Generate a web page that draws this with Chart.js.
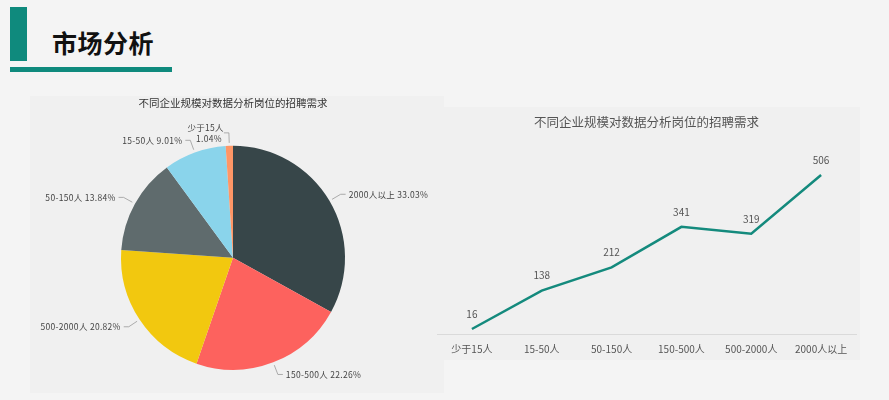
<!DOCTYPE html>
<html>
<head>
<meta charset="utf-8">
<script src="https://cdn.jsdelivr.net/npm/chart.js@4.4.0/dist/chart.umd.min.js"></script>
<style>
  html, body { margin: 0; padding: 0; }
  body { width: 889px; height: 400px; background: #f4f4f4; position: relative; overflow: hidden;
         font-family: "Noto Sans CJK SC", "Noto Sans", sans-serif; }
  .vbar { position: absolute; left: 10px; top: 7px; width: 17px; height: 54px; background: #0f8a7d; }
  .hbar { position: absolute; left: 10px; top: 67px; width: 162px; height: 5px; background: #0f8a7d; }
  .head { position: absolute; left: 52px; top: 24px; font-size: 25px; font-weight: 700; color: #111; line-height: 36px; letter-spacing: 0.5px; }
  .card { position: absolute; background: #f0f0f0; }
  #pieCard { left: 30px; top: 96px; width: 414px; height: 297px; }
  #lineCard { left: 443px; top: 107px; width: 417px; height: 253px; }
  #pieWrap { position: absolute; left: 30px; top: 96px; width: 414px; height: 297px; }
  #lineWrap { position: absolute; left: 437px; top: 111px; width: 423px; height: 253px; }
</style>
</head>
<body>
<div class="vbar"></div>
<div class="hbar"></div>
<div class="head">市场分析</div>
<div class="card" id="pieCard"></div>
<div class="card" id="lineCard"></div>
<div id="pieWrap"><canvas id="pieChart" width="414" height="297"></canvas></div>
<div id="lineWrap"><canvas id="lineChart" width="423" height="253"></canvas></div>
<script>
// 数据
var chartTitle = '不同企业规模对数据分析岗位的招聘需求';
var sizes = ['少于15人', '15-50人', '50-150人', '150-500人', '500-2000人', '2000人以上'];
var demand = [16, 138, 212, 341, 319, 506];

var pieLabels = ['2000人以上', '150-500人', '500-2000人', '50-150人', '15-50人', '少于15人'];
var pieValues = [506, 341, 319, 212, 138, 16];
var piePercent = ['33.03%', '22.26%', '20.82%', '13.84%', '9.01%', '1.04%'];
var pieColors = ['#374649', '#fd625e', '#f2c80f', '#5f6b6d', '#8ad4eb', '#fe9666'];

var teal = '#148a7d';

// 饼图外侧标签 + 引导线
var pieLabelPlugin = {
  id: 'pieLabelPlugin',
  afterDatasetsDraw: function(chart) {
    var ctx = chart.ctx;
    var meta = chart.getDatasetMeta(0);
    ctx.save();
    ctx.font = '8.5px "Noto Sans CJK SC"';
    ctx.letterSpacing = '0.3px';
    ctx.fillStyle = '#444';
    ctx.strokeStyle = '#999';
    ctx.lineWidth = 0.8;
    meta.data.forEach(function(arc, i) {
      var a = (arc.startAngle + arc.endAngle) / 2;
      var r = arc.outerRadius;
      var x0 = arc.x + Math.cos(a) * (r + 3), y0 = arc.y + Math.sin(a) * (r + 3);
      var x1 = arc.x + Math.cos(a) * (r + 13), y1 = arc.y + Math.sin(a) * (r + 13);
      var dir = Math.cos(a) >= 0 ? 1 : -1;
      var x2 = x1 + dir * 5;
      ctx.beginPath();
      ctx.moveTo(x0, y0); ctx.lineTo(x1, y1); ctx.lineTo(x2, y1);
      ctx.stroke();
      ctx.textAlign = dir > 0 ? 'left' : 'right';
      ctx.textBaseline = 'middle';
      var tx = x2 + dir * 3;
      if (i === pieLabels.length - 1) {
        ctx.fillText(pieLabels[i], tx + 3, y1 - 5);
        ctx.fillText(piePercent[i], tx + 1, y1 + 6);
      } else {
        ctx.fillText(pieLabels[i] + ' ' + piePercent[i], tx, y1);
      }
    });
    ctx.restore();
  }
};

new Chart(document.getElementById('pieChart'), {
  type: 'pie',
  data: {
    labels: pieLabels,
    datasets: [{ data: pieValues, backgroundColor: pieColors, borderWidth: 0 }]
  },
  options: {
    responsive: false,
    animation: false,
    layout: { padding: { left: 91, right: 99, top: 0, bottom: 23 } },
    plugins: {
      legend: { display: false },
      tooltip: { enabled: false },
      title: {
        display: true, text: chartTitle, color: '#333',
        font: { family: 'Noto Sans CJK SC', size: 10.5, weight: 'normal' },
        padding: { top: 1, bottom: 36 }
      }
    }
  },
  plugins: [pieLabelPlugin]
});

// 折线图数据标签
var lineLabelPlugin = {
  id: 'lineLabelPlugin',
  afterDatasetsDraw: function(chart) {
    var ctx = chart.ctx;
    var meta = chart.getDatasetMeta(0);
    ctx.save();
    ctx.font = '10px "Noto Sans CJK SC"';
    ctx.fillStyle = '#555';
    ctx.textAlign = 'center';
    ctx.textBaseline = 'middle';
    meta.data.forEach(function(pt, i) {
      ctx.fillText(String(demand[i]), pt.x, pt.y - 15);
    });
    ctx.restore();
  }
};

new Chart(document.getElementById('lineChart'), {
  type: 'line',
  data: {
    labels: sizes,
    datasets: [{
      data: demand, borderColor: teal, borderWidth: 2.5,
      pointRadius: 0, tension: 0, fill: false, clip: false
    }]
  },
  options: {
    responsive: false,
    animation: false,
    layout: { padding: { left: 0, right: 4, top: 0, bottom: 0 } },
    scales: {
      x: {
        offset: true,
        grid: { display: false, drawTicks: false },
        border: { display: true, color: '#dadada', width: 1 },
        ticks: { color: '#555', font: { family: 'Noto Sans CJK SC', size: 10 }, padding: 9, maxRotation: 0 }
      },
      y: { display: false, min: 0, max: 560 }
    },
    plugins: {
      legend: { display: false },
      tooltip: { enabled: false },
      title: {
        display: true, text: chartTitle, color: '#555',
        font: { family: 'Noto Sans CJK SC', size: 12.5, weight: 'normal' },
        padding: { top: 4, bottom: 28 }
      }
    }
  },
  plugins: [lineLabelPlugin]
});
</script>
</body>
</html>
